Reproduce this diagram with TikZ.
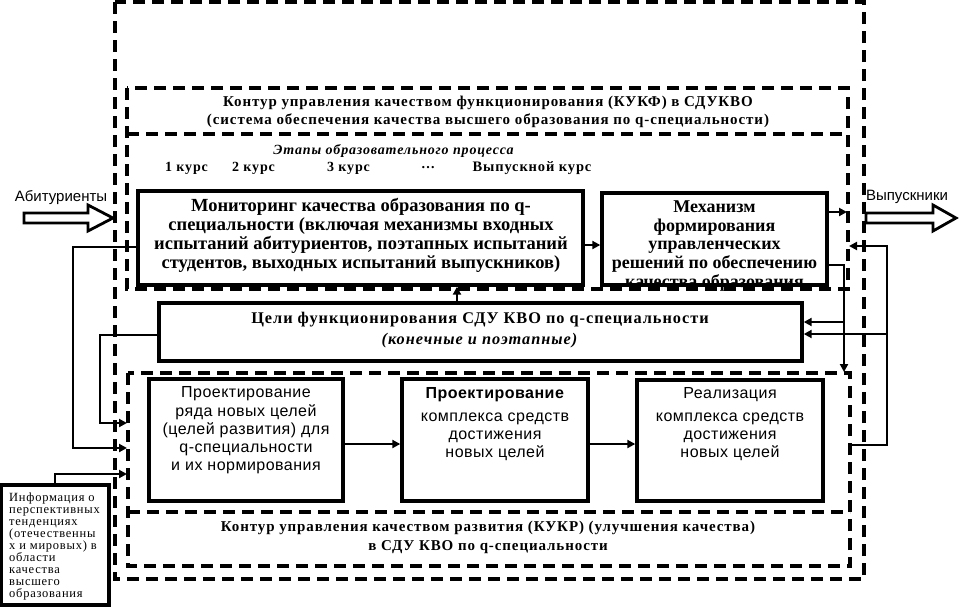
\documentclass[tikz,border=0pt]{standalone}
\usepackage{fontspec}
\setmainfont{Liberation Serif}
\setsansfont{Liberation Sans}
\newfontfamily\wserif[LetterSpace=6]{Liberation Serif}
\newfontfamily\wsans[LetterSpace=3]{Liberation Sans}
\usetikzlibrary{arrows.meta}
\tikzset{
  contour/.style={line width=3.2pt,dash pattern=on 12pt off 7pt},
  box/.style={draw,line width=3.4pt,inner sep=0pt},
  arr/.style={line width=2.8pt,-{Triangle[length=8pt,width=8pt]}},
  blockarr/.style={draw,line width=2.8pt,line join=miter},
  headtxt/.style={font=\wserif\bfseries\fontsize{15}{18.5}\selectfont,align=center,inner sep=0pt},
  bigtxt/.style={font=\bfseries\fontsize{18.5}{19}\selectfont,align=center,inner sep=0pt},
  sanstxt/.style={font=\wsans\fontsize{16}{18.2}\selectfont,align=center,inner sep=0pt},
  infotxt/.style={font=\wserif\fontsize{12.5}{12}\selectfont,align=left,inner sep=0pt},
  lbl/.style={font=\sffamily\fontsize{15}{18}\selectfont,inner sep=0pt}
}

\begin{document}
\begin{tikzpicture}[x=1pt,y=-1pt]
\useasboundingbox (0,0) rectangle (966,606);

% dashed contours
\draw[contour] (115,2) rectangle (864,579);
\draw[contour] (127,88) rectangle (848,289);
\draw[contour] (127,134) -- (848,134);
\draw[contour] (128,373) rectangle (850,566);
\draw[contour] (128,512) -- (850,512);

% contour titles
\node[headtxt] (kukf) at (488,112) {Контур управления качеством функционирования (КУКФ) в СДУКВО\\
  (система обеспечения качества высшего образования по q-специальности)};
\node[headtxt] (kukr) at (488,537.5) {Контур управления качеством развития (КУКР) (улучшения качества)\\
  в СДУ КВО по q-специальности};

% stages of the educational process
\node[headtxt,font=\wserif\bfseries\itshape\fontsize{14}{16}\selectfont] (stages) at (393.5,151) {Этапы образовательного процесса};
\node[headtxt,font=\wserif\bfseries\fontsize{14}{16}\selectfont] (c1) at (186.5,168) {1 курс};
\node[headtxt,font=\wserif\bfseries\fontsize{14}{16}\selectfont] (c2) at (253.5,168) {2 курс};
\node[headtxt,font=\wserif\bfseries\fontsize{14}{16}\selectfont] (c3) at (348.5,168) {3 курс};
\node[headtxt,font=\wserif\bfseries\fontsize{14}{16}\selectfont] (cdots) at (428,168) {\dots};
\node[headtxt,font=\wserif\bfseries\fontsize{14.5}{16}\selectfont] (clast) at (532,168) {Выпускной курс};

% functioning loop
\node[box,minimum width=445pt,minimum height=94pt] (mon) at (360.5,238) {};
\node[bigtxt] (monT) at (361,235.5) {Мониторинг качества образования по q-\\
  специальности (включая механизмы входных\\
  испытаний абитуриентов, поэтапных испытаний\\
  студентов, выходных испытаний выпускников)};
\node[box,minimum width=225pt,minimum height=92pt] (mech) at (714.5,239) {};
\node[bigtxt,font=\bfseries\fontsize{18}{18.6}\selectfont] (mechT) at (714.5,246) {Механизм\\формирования\\управленческих\\решений по обеспечению\\качества образования};
\node[box,minimum width=643pt,minimum height=58pt] (goals) at (480.5,332) {};
\node[headtxt,font=\wserif\bfseries\fontsize{16.3}{21}\selectfont] (goalsT) at (480,330.5) {Цели функционирования СДУ КВО по q-специальности\\
  \textit{(конечные и поэтапные)}};

% development loop
\node[box,minimum width=194pt,minimum height=122pt] (desA) at (246,440) {};
\node[sanstxt] (desAT) at (246,430.5) {Проектирование\\ряда новых целей\\(целей развития) для\\q-специальности\\и их нормирования};
\node[box,minimum width=186pt,minimum height=122pt] (desB) at (495,440) {};
\node[sanstxt] (desBT) at (495,424) {\textbf{Проектирование}\\[5pt]комплекса средств\\достижения\\новых целей};
\node[box,minimum width=186pt,minimum height=121pt] (real) at (730,440.5) {};
\node[sanstxt] (realT) at (730,424) {Реализация\\[5pt]комплекса средств\\достижения\\новых целей};

% outside information
\node[box,minimum width=108pt,minimum height=120pt] (info) at (55,545) {};
\node[infotxt,anchor=west] (infoT) at (9,546) {Информация о\\перспективных\\тенденциях\\(отечественны\\х и мировых) в\\области\\качества\\высшего\\образования};

% entrants and graduates
\node[lbl] (abitT) at (61,198) {Абитуриенты};
\node[lbl] (vypT) at (907,197) {Выпускники};
\draw[blockarr] (24,213) -- (88,213) -- (88,205) -- (113,218) -- (88,231) -- (88,223) -- (24,223) -- cycle;
\draw[blockarr] (866,213) -- (933,213) -- (933,205) -- (956,218) -- (933,231) -- (933,223) -- (866,223) -- cycle;

% free ends on the contours
\coordinate (kR1) at (847,212);
\coordinate (kR2) at (849,246);
\coordinate (dTop) at (844,372);
\coordinate (dR) at (850,445);
\coordinate (dL1) at (127,423);
\coordinate (dL2) at (127,448);
\coordinate (dL3) at (127,474);

% connectors
\draw[arr] (mon.east |- 0,245) -- (mech.west |- 0,245);
\draw[arr] (mech.east |- 0,212) -- (kR1);
\draw[arr] (mech.east |- 0,265) -| (dTop);
\draw[arr] (844,322) -- (goals.east |- 0,322);
\draw[arr] (dR) -- (887,445) -- (887,246) -- (kR2);
\draw[arr] (887,334) -- (goals.east |- 0,334);
\draw[arr] (goals.north -| 457,0) -- (mon.south -| 457,0);
\draw[arr] (mon.west |- 0,247) -| (73,448) -- (dL2);
\draw[arr] (goals.west |- 0,335) -| (100,423) -- (dL1);
\draw[arr] (info.north -| 55,0) |- (dL3);
\draw[arr] (desA.east |- 0,444) -- (desB.west |- 0,444);
\draw[arr] (desB.east |- 0,444) -- (real.west |- 0,444);

\end{tikzpicture}
\end{document}
